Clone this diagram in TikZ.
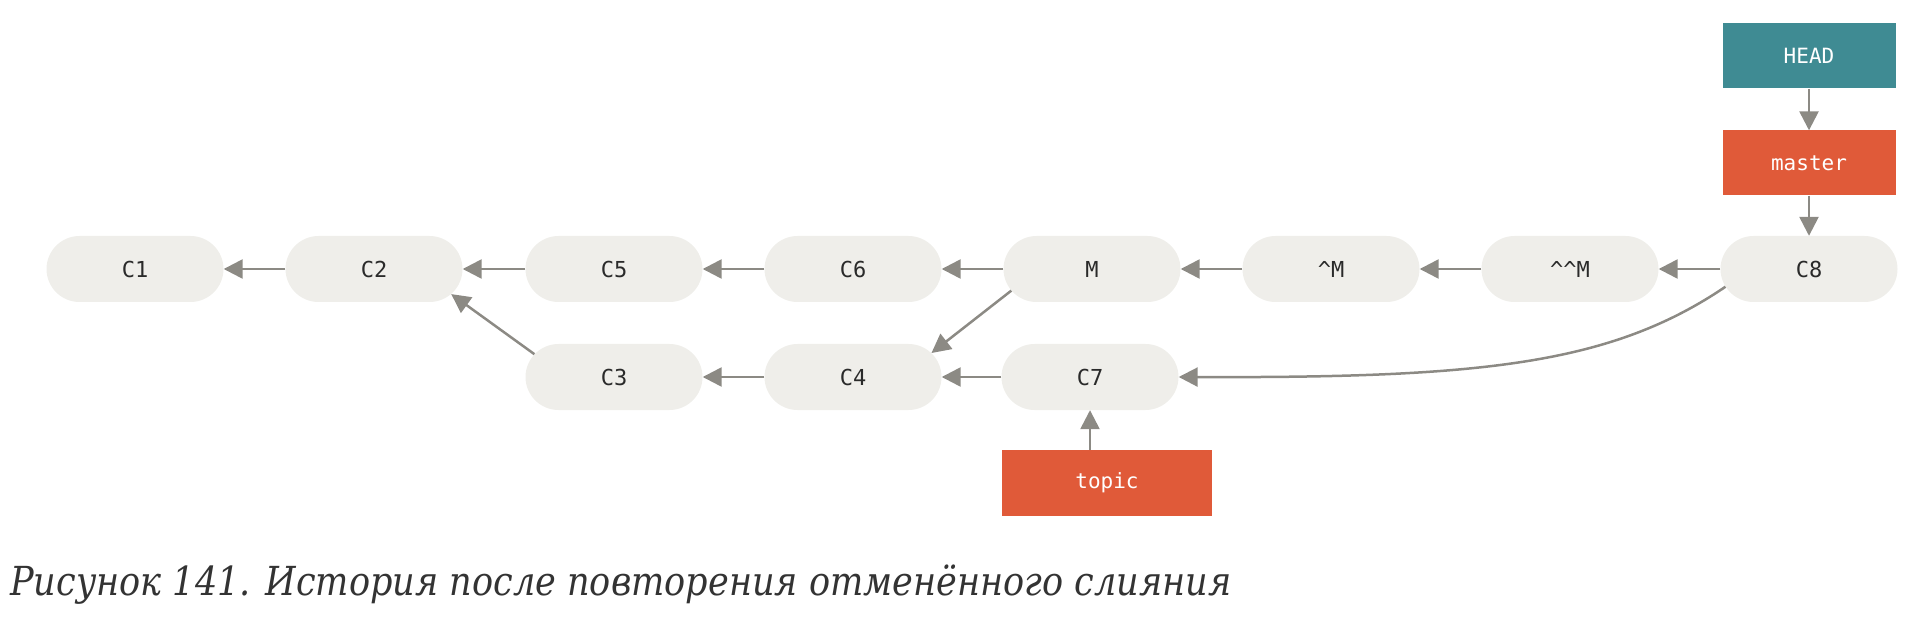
\documentclass[tikz,border=0pt]{standalone}
\usepackage{fontspec}
\setmonofont{DejaVu Sans Mono}
\newfontfamily\capfont{DejaVu Serif}
\usetikzlibrary{arrows.meta,shapes.misc}
\definecolor{commitfill}{HTML}{EFEEEA}
\definecolor{arrowgrey}{HTML}{8C8A84}
\definecolor{headteal}{HTML}{3F8B93}
\definecolor{branchred}{HTML}{E05A39}
\definecolor{captext}{HTML}{333333}
\definecolor{committext}{HTML}{2A2A2A}
\begin{document}
\begin{tikzpicture}[x=1pt,y=-1pt,
  commit/.style={rounded rectangle, fill=commitfill, minimum width=177pt, minimum height=66pt, inner sep=0pt, font=\ttfamily\fontsize{22}{22}\selectfont, text=committext},
  branch/.style={rectangle, fill=branchred, minimum width=173pt, minimum height=65pt, inner sep=0pt, font=\ttfamily\fontsize{21}{21}\selectfont, text=white},
  headbox/.style={branch, fill=headteal},
  conn/.style={draw=arrowgrey, line width=2.5pt, -{Triangle[length=19pt,width=19pt]}},
  caption/.style={font=\capfont\itshape\fontsize{40}{40}\selectfont, text=captext, inner sep=0pt, anchor=base west}]
\useasboundingbox (0,0) rectangle (1920,628);
% commits row 1
\node[commit] (C1) at (135,269) {C1};
\node[commit] (C2) at (374,269) {C2};
\node[commit] (C5) at (614,269) {C5};
\node[commit] (C6) at (853,269) {C6};
\node[commit] (M) at (1092,269) {M};
\node[commit] (M1) at (1331,269) {\^{}M};
\node[commit] (M2) at (1570,269) {\^{}\^{}M};
\node[commit] (C8) at (1809,269) {C8};
% commits row 2
\node[commit] (C3) at (614,377) {C3};
\node[commit] (C4) at (853,377) {C4};
\node[commit] (C7) at (1090,377) {C7};
% branches
\node[headbox] (HEAD) at (1809,56) {HEAD};
\node[branch] (master) at (1809,163) {master};
\node[branch, minimum width=210pt, minimum height=66pt] (topic) at (1107,483) {topic};
% connectors
\draw[conn] (C2.west) -- (C1.east);
\draw[conn] (C5.west) -- (C2.east);
\draw[conn] (C6.west) -- (C5.east);
\draw[conn] (M.west) -- (C6.east);
\draw[conn] (M1.west) -- (M.east);
\draw[conn] (M2.west) -- (M1.east);
\draw[conn] (C8.west) -- (M2.east);
\draw[conn] (C4.west) -- (C3.east);
\draw[conn] (C7.west) -- (C4.east);
\draw[conn] (C3.164) -- (C2.-18);
\draw[conn] (M.195) -- (C4.17);
\draw[conn] (C8.192) .. controls (1610,365) and (1480,378) .. (C7.east);
\draw[conn] (HEAD.south) -- (master.north);
\draw[conn] (master.south) -- (C8.north);
\coordinate (topictop) at (topic.north -| C7.south);
\draw[conn] (topictop) -- (C7.south);
% caption
\node[caption] (cap) at (10,595) {\scalebox{0.877}[1]{Рисунок 141. История после повторения отменённого слияния}};
\end{tikzpicture}
\end{document}
